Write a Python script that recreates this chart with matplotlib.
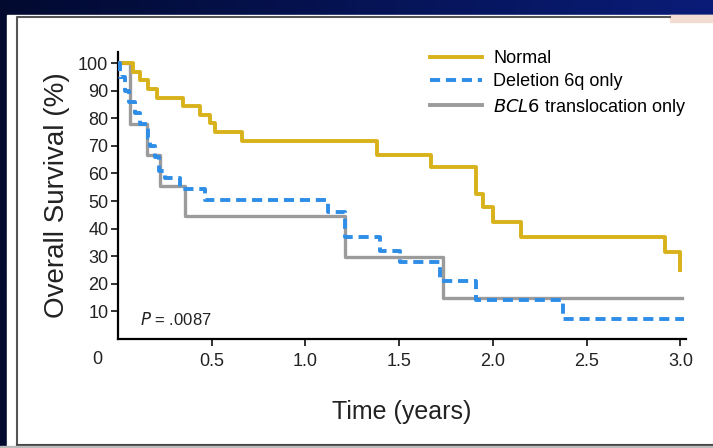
#!/usr/bin/env python3
"""Kaplan-Meier style overall survival chart on a slide background."""

import matplotlib
matplotlib.use("Agg")
import matplotlib.pyplot as plt
import numpy as np
from matplotlib import font_manager
from matplotlib.lines import Line2D
from matplotlib.patches import Rectangle

# survival curves (time in years, overall survival in %)
normal_t = [0, 0.08, 0.117, 0.162, 0.206, 0.348, 0.437, 0.49, 0.517, 0.659,
            1.379, 1.672, 1.912, 1.947, 2.0, 2.151, 2.916, 3.0]
normal_s = [100, 96.9, 93.8, 90.6, 87.5, 84.4, 81.3, 78.1, 75.0, 71.9,
            66.5, 62.5, 52.6, 47.8, 42.4, 36.9, 31.5, 24.9]

del6q_t = [0, 0.01, 0.035, 0.06, 0.09, 0.12, 0.16, 0.17, 0.2, 0.22, 0.25,
           0.33, 0.466, 1.121, 1.21, 1.397, 1.503, 1.716, 1.912, 2.374, 3.02]
del6q_s = [100, 95, 90, 86, 82, 78, 73, 70, 66, 61, 58.5,
           54.5, 50.2, 46, 37, 32, 28, 21, 14, 7.4, 7.4]

bcl6_t = [0, 0.064, 0.153, 0.224, 0.357, 1.21, 1.734, 3.01]
bcl6_s = [100, 77.8, 66.7, 55.6, 44.4, 29.6, 14.8, 14.8]

x_ticks = [0.5, 1.0, 1.5, 2.0, 2.5, 3.0]
x_tick_labels = ["0.5", "1.0", "1.5", "2.0", "2.5", "3.0"]
y_ticks = [10, 20, 30, 40, 50, 60, 70, 80, 90, 100]

YELLOW = "#d8b21a"
BLUE = "#2e8de6"
GRAY = "#9b9b9b"
INK = "#222222"

installed = {f.name for f in font_manager.fontManager.ttflist}
FONT = "Liberation Sans Narrow" if "Liberation Sans Narrow" in installed else "Liberation Sans"
plt.rcParams["font.family"] = [FONT, "DejaVu Sans"]

W, H = 713, 448
fig = plt.figure(figsize=(W / 100, H / 100), dpi=100)

# slide background: navy gradient with a white panel
bg = fig.add_axes([0, 0, 1, 1])
bg.set_xlim(0, W)
bg.set_ylim(H, 0)
bg.axis("off")
grad = np.linspace(0, 1, 256)[None, :]
bg.imshow(grad, cmap=matplotlib.colors.LinearSegmentedColormap.from_list(
    "navy", ["#020a30", "#0a1c78"]), extent=[0, W, H, 0], aspect="auto")
bg.add_patch(Rectangle((7, 15), W - 7, H - 15, color="white", zorder=2))
bg.add_patch(Rectangle((670, 15), W - 670, 7, color="#f3ddd2", zorder=3))
bg.plot([17, 17, 670], [445, 17, 17], color="#555555", lw=1.5, zorder=3)
bg.plot([17, W], [445, 445], color="#444444", lw=1.5, zorder=3)
bg.add_patch(Rectangle((0, 446), W, 2, color="#bbbbbb", zorder=3))

ax = fig.add_axes([118 / W, 1 - 339 / H, (686 - 118) / W, (339 - 52) / H])
ax.set_facecolor("none")
ax.step(bcl6_t, bcl6_s, where="post", color=GRAY, lw=2.4, zorder=2)
ax.step(normal_t, normal_s, where="post", color=YELLOW, lw=2.8, zorder=3)
ax.step(del6q_t, del6q_s, where="post", color=BLUE, lw=2.8,
        dashes=(2.6, 1.5), zorder=4)

ax.set_xlim(0, 3.03)
ax.set_ylim(0, 104)
ax.spines["top"].set_visible(False)
ax.spines["right"].set_visible(False)
ax.spines["left"].set_linewidth(1.6)
ax.spines["bottom"].set_linewidth(1.6)
ax.set_xticks(x_ticks)
ax.set_xticklabels(x_tick_labels)
ax.set_yticks(y_ticks)
ax.tick_params(axis="both", length=5, width=1.3, labelsize=13, colors=INK)
ax.tick_params(axis="x", pad=5)
ax.tick_params(axis="y", pad=2)
ax.text(-0.11, -4.5, "0", fontsize=13, color=INK, ha="center", va="top",
        clip_on=False)
ax.text(0.12, 7, "$\\it{P}$ = .0087", fontsize=12, color=INK, va="center")

ax.set_xlabel("Time (years)", fontsize=18, color=INK, labelpad=22)
ax.set_ylabel("Overall Survival (%)", fontsize=20, color=INK, labelpad=6)

handles = [
    Line2D([], [], color=YELLOW, lw=2.8),
    Line2D([], [], color=BLUE, lw=2.8, dashes=(2.6, 1.5)),
    Line2D([], [], color=GRAY, lw=2.8),
]
labels = ["Normal", "Deletion 6q only", "$\\it{BCL6}$ translocation only"]
ax.legend(handles, labels, loc="upper left", bbox_to_anchor=(0.53, 1.045),
          frameon=False, fontsize=13, handlelength=2.9, labelspacing=0.35,
          handletextpad=0.6, borderaxespad=0.2)

fig.savefig("out.png", dpi=100)
